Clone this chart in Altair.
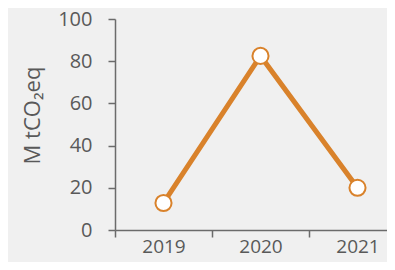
import altair as alt
import pandas as pd

years = ["2019", "2020", "2021"]
values = [12.8, 82.5, 20.0]

df = pd.DataFrame({"year": years, "value": values})

FONT = "Open Sans"
GREY = "#595959"
ORANGE = "#D9822B"

x = alt.X("year:N", sort=years,
          scale=alt.Scale(range=[0, 291], paddingInner=0, paddingOuter=0),
          axis=alt.Axis(title=None, labelAngle=0, tickBand="extent",
                        labelPadding=0, tickSize=7, labelFontSize=19))
y = alt.Y("value:Q", scale=alt.Scale(domain=[0, 100], nice=False),
          axis=alt.Axis(title="M tCO₂eq", values=[0, 20, 40, 60, 80, 100],
                        tickSize=7, labelPadding=16, labelFontSize=20,
                        titleFontSize=22, titleFontWeight="normal",
                        titleX=-71, titleY=96, titleAngle=270,
                        titleBaseline="bottom", titleAlign="center",
                        grid=False))

line = alt.Chart(df).mark_line(color=ORANGE, strokeWidth=5).encode(x=x, y=y)
pts = alt.Chart(df).mark_point(shape="circle", filled=True, fill="white",
                               stroke=ORANGE, strokeWidth=2, size=260,
                               opacity=1).encode(x=x, y=y)

chart = (line + pts).properties(
    width=272, height=211,
    autosize=alt.AutoSizeParams(type="none"),
    padding={"left": 107, "top": 11, "right": 0, "bottom": 32},
    background="#f0f0f0",
).configure_view(stroke=None).configure_axis(
    labelFont=FONT, titleFont=FONT, labelColor=GREY, titleColor=GREY,
    domainColor="#6b6b6b", tickColor="#6b6b6b", domainWidth=1.5, tickWidth=1.5,
)

chart.save("out.html", embed_options={"renderer": "svg", "actions": False})
